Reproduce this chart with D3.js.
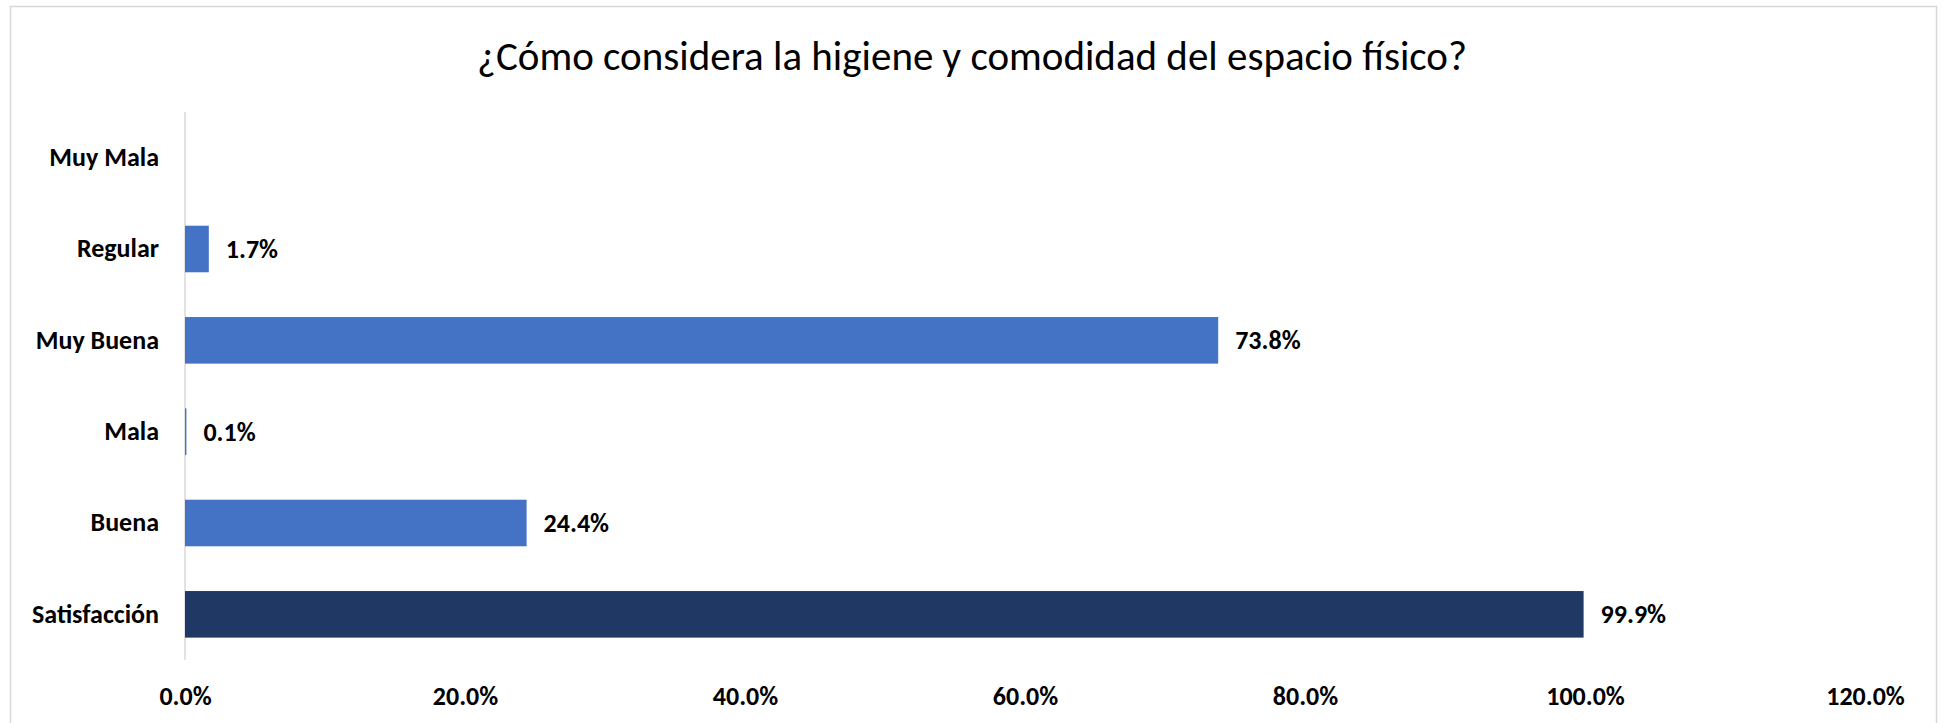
<!DOCTYPE html>
<html lang="es">
<head>
<meta charset="utf-8">
<title>Higiene y comodidad</title>
<script src="https://cdn.jsdelivr.net/npm/d3@7"></script>
<style>
  body { margin: 0; background: #fff; }
  .axis path, .axis line { display: none; }
  .axis text { font-family: Carlito, Lato, sans-serif; font-size: 26px; font-weight: bold; fill: #000; }
</style>
</head>
<body>
<script>
// Data
var categories = ["Muy Mala", "Regular", "Muy Buena", "Mala", "Buena", "Satisfacción"];
var values = [0, 1.7, 73.8, 0.1, 24.4, 99.9];
var xTicks = [0, 20, 40, 60, 80, 100, 120];
var titleText = "¿Cómo considera la higiene y comodidad del espacio físico?";

var W = 1945, H = 723;
var margin = { top: 112, right: 80, bottom: 63, left: 185 };
var plotW = W - margin.left - margin.right;
var plotH = H - margin.top - margin.bottom;

var svg = d3.select("body").append("svg")
    .attr("width", W)
    .attr("height", H);

// chart frame
svg.append("rect")
    .attr("x", 10.5).attr("y", 6.5)
    .attr("width", 1926).attr("height", 740)
    .attr("fill", "none")
    .attr("stroke", "#d9d9d9")
    .attr("stroke-width", 1.5);

svg.append("text")
    .attr("x", 972)
    .attr("y", 56)
    .attr("dy", "0.35em")
    .attr("text-anchor", "middle")
    .attr("font-family", "Carlito, Lato, sans-serif")
    .attr("font-size", "41px")
    .attr("fill", "#000")
    .text(titleText);

var g = svg.append("g")
    .attr("transform", "translate(" + margin.left + "," + margin.top + ")");

var xScale = d3.scaleLinear().domain([0, 120]).range([0, 1680]);
var yScale = d3.scaleBand().domain(categories).range([0, plotH]).paddingInner(0.49).paddingOuter(0.245);

var xAxis = d3.axisBottom(xScale).tickValues(xTicks).tickSize(0).tickPadding(0)
    .tickFormat(function(d) { return d.toFixed(1) + "%"; });
var yAxis = d3.axisLeft(yScale).tickSize(0).tickPadding(26);

g.append("g").attr("class", "axis")
    .attr("transform", "translate(0," + (plotH + 36) + ")")
    .call(xAxis)
    .selectAll("text").attr("dy", "0.35em");

g.append("g").attr("class", "axis").call(yAxis);

// vertical axis line
g.append("line")
    .attr("x1", 0).attr("x2", 0)
    .attr("y1", 0).attr("y2", plotH)
    .attr("stroke", "#d9d9d9").attr("stroke-width", 1.5);

var data = categories.map(function(c, i) { return { cat: c, val: values[i] }; });

g.selectAll("rect.bar")
    .data(data)
    .enter()
    .append("rect")
    .attr("class", "bar")
    .attr("x", 0)
    .attr("y", function(d) { return yScale(d.cat); })
    .attr("height", yScale.bandwidth())
    .attr("width", function(d) { return xScale(d.val); })
    .attr("fill", function(d) { return d.cat === "Satisfacción" ? "#203864" : "#4472c4"; });

g.selectAll("text.val")
    .data(data.filter(function(d) { return d.val > 0; }))
    .enter()
    .append("text")
    .attr("class", "val")
    .attr("x", function(d) { return xScale(d.val) + 17; })
    .attr("y", function(d) { return yScale(d.cat) + yScale.bandwidth() / 2; })
    .attr("dy", "0.35em")
    .attr("font-family", "Carlito, Lato, sans-serif")
    .attr("font-size", "26px")
    .attr("font-weight", "bold")
    .text(function(d) { return d.val.toFixed(1) + "%"; });
</script>
</body>
</html>
